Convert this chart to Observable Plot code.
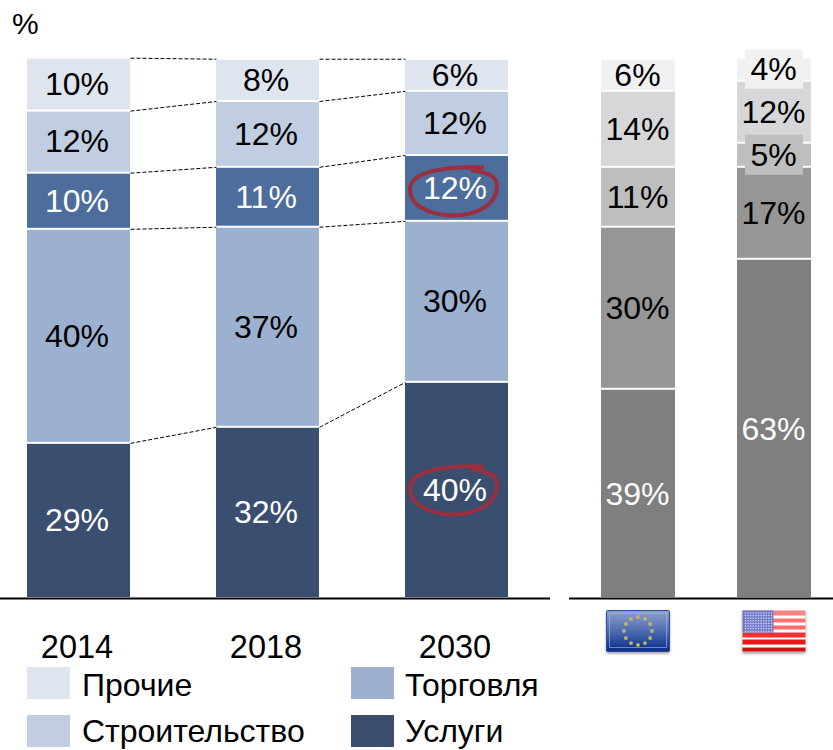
<!DOCTYPE html>
<html>
<head>
<meta charset="utf-8">
<script src="https://cdn.jsdelivr.net/npm/d3@7"></script>
<script src="https://cdn.jsdelivr.net/npm/@observablehq/plot@0.6"></script>
<style>
html,body{margin:0;padding:0;background:#fff;}
body{width:833px;height:750px;position:relative;overflow:hidden;font-family:"Liberation Sans",Arial,sans-serif;color:#000;}
.abs{position:absolute;}
#unit{left:12px;top:7px;font-size:30px;line-height:34px;}
.sw{position:absolute;width:43px;height:32px;}
.lt{position:absolute;font-size:32px;line-height:33px;white-space:nowrap;}
svg{display:block;}
</style>
</head>
<body>
<div id="unit" class="abs">%</div>
<div id="left" class="abs" style="left:0;top:0"></div>
<div id="right" class="abs" style="left:569px;top:0"></div>
<div id="legend"></div>
<script>
// Categories
const years = ["2014", "2018", "2030"];
const regions = ["ЕС", "США"];
const sectors = ["Услуги", "Торговля", "Сегмент", "Строительство", "Прочие"];
const legendItems = ["Прочие", "Торговля", "Строительство", "Услуги"];

// Values as bar heights (bottom to top)
const heights2014 = [29.0, 40.0, 10.5, 11.6, 9.9];
const heights2018 = [32.0, 37.4, 11.2, 12.3, 7.9];
const heights2030 = [40.4, 30.1, 12.3, 12.0, 6.0];
const heightsEU = [39.1, 30.3, 11.2, 14.2, 6.0];
const heightsUS = [63.4, 17.2, 4.5, 11.6, 4.3];

// Printed labels
const labels2014 = ["29%", "40%", "10%", "12%", "10%"];
const labels2018 = ["32%", "37%", "11%", "12%", "8%"];
const labels2030 = ["40%", "30%", "12%", "12%", "6%"];
const labelsEU = ["39%", "30%", "11%", "14%", "6%"];
const labelsUS = ["63%", "17%", "5%", "12%", "4%"];

// Colours
const blues = ["#3a4f6f", "#9cb0cf", "#4d6d9c", "#c1cde0", "#dfe5ef"];
const greys = ["#7f7f7f", "#969696", "#bebebe", "#d6d7d9", "#f1f1f1"];
const blueInk = ["#fff", "#000", "#fff", "#000", "#000"];
const greyInk = ["#fff", "#000", "#000", "#000", "#000"];
const legendColors = ["#dfe5ef", "#9cb0cf", "#c1cde0", "#3a4f6f"];

const FONT = "Liberation Sans, Arial, sans-serif";
const LABEL = 32;

function rows(names, heightsBy, labelsBy, palette, ink) {
  return names.flatMap((g, i) => sectors.map((s, k) => ({
    group: g, sector: s, value: heightsBy[i][k], label: labelsBy[i][k],
    color: palette[k], ink: ink[k]
  })));
}

const leftRows = rows(years, [heights2014, heights2018, heights2030],
  [labels2014, labels2018, labels2030], blues, blueInk);
const rightRows = rows(regions, [heightsEU, heightsUS],
  [labelsEU, labelsUS], greys, greyInk);

// Dashed connectors between neighbouring years
const allHeights = [heights2014, heights2018, heights2030];
const links = [];
for (let i = 0; i < 2; i++) {
  const a = [...d3.cumsum(allHeights[i])], b = [...d3.cumsum(allHeights[i + 1])];
  a.forEach((v, k) => links.push({from: years[i], to: years[i + 1], y1: v, y2: b[k]}));
}

// Hand drawn ring as a dot symbol
const ring = {draw(c) {
  c.moveTo(28, -21);
  c.bezierCurveTo(0, -22, -46, -20, -46, 1);
  c.bezierCurveTo(-46, 20, -20, 27, -4, 27);
  c.bezierCurveTo(20, 27, 41, 17, 41, -3);
  c.bezierCurveTo(41, -13, 28, -17, 15, -18);
}};
const ringMark = (sector, dy) => Plot.dot(leftRows, Plot.stackY({
  x: "group", y: "value", order: null, symbol: ring, r: 10, fill: "none",
  stroke: d => d.group === "2030" && d.sector === sector ? "#9a2f3f" : "none",
  strokeWidth: 4, strokeLinejoin: "round", dx: -1, dy
}));

// Flags
function euFlag() {
  let stars = "";
  for (let i = 0; i < 12; i++) {
    const a = i * Math.PI / 6;
    stars += `<circle cx="${31.5 + 14 * Math.sin(a)}" cy="${20.5 - 14 * Math.cos(a)}" r="1.9" fill="#c4b660"/>`;
  }
  return `<svg xmlns="http://www.w3.org/2000/svg" width="70" height="48" viewBox="-3 -3 70 48">
  <defs><linearGradient id="g" x1="0" y1="0" x2="0" y2="1"><stop offset="0" stop-color="#8fa3cf"/><stop offset=".55" stop-color="#4766ad"/><stop offset="1" stop-color="#062a8a"/></linearGradient>
  <filter id="b"><feGaussianBlur stdDeviation=".6"/></filter><filter id="s"><feGaussianBlur stdDeviation="1.4"/></filter></defs>
  <rect x="0" y="2" width="63" height="41" fill="#999" filter="url(#s)"/>
  <g filter="url(#b)"><rect width="63" height="41" rx="1" fill="url(#g)" stroke="#2c4a9a"/>
  <rect x="3" y="3" width="57" height="34" fill="none" stroke="#a9b9dc" stroke-opacity=".6"/>${stars}</g></svg>`;
}
function usFlag() {
  let d = "";
  for (let r = 0; r < 8; r++) for (let c = 0; c < 11; c++)
    d += `<circle cx="${3 + c * 2.6}" cy="${2.5 + r * 2.6}" r=".8" fill="#d8d8f0"/>`;
  return `<svg xmlns="http://www.w3.org/2000/svg" width="70" height="48" viewBox="-3 -3 70 48">
  <defs><filter id="b"><feGaussianBlur stdDeviation=".7"/></filter><filter id="s"><feGaussianBlur stdDeviation="1.4"/></filter></defs>
  <rect x="0" y="2" width="63" height="41" fill="#999" filter="url(#s)"/>
  <g filter="url(#b)"><rect width="63" height="41" rx="1" fill="#fff"/>
  <rect x="0" y="0" width="63" height="5" fill="#ff8080"/>
  <rect x="0" y="8" width="63" height="4" fill="#ff7070"/>
  <rect x="0" y="15" width="63" height="4" fill="#ff6a6a"/>
  <rect x="0" y="22" width="63" height="5" fill="#f23030"/>
  <rect x="0" y="29" width="63" height="5" fill="#e81818"/>
  <rect x="0" y="37" width="63" height="4" fill="#d01010"/>
  <rect x="0" y="0" width="31" height="22" fill="#6f78c8"/>${d}</g></svg>`;
}
const dataUri = s => "data:image/svg+xml," + encodeURIComponent(s);
const flags = [{group: "ЕС", src: dataUri(euFlag())}, {group: "США", src: dataUri(usFlag())}];

const yScale = {domain: [0, 100], range: [598, 63]};

const segments = (rowsData) => [
  Plot.barY(rowsData, Plot.stackY({x: "group", y: "value", fill: "color", order: null, insetTop: 1, insetBottom: 1}))
];
const percentLabels = (rowsData, dx, dy) => Plot.text(rowsData, Plot.stackY({
  x: "group", y: "value", text: "label", fill: "ink", order: null,
  fontSize: LABEL, fontFamily: FONT, fontWeight: 400, dx, dy
}));

const left = Plot.plot({
  width: 550, height: 665,
  marginLeft: 0, marginRight: 0, marginTop: 0, marginBottom: 67,
  style: {background: "transparent", fontFamily: FONT, overflow: "visible"},
  x: {type: "band", domain: years, range: [27, 508], paddingInner: 0.455, paddingOuter: 0, round: false, label: null},
  y: {...yScale, axis: null},
  color: {type: "identity"},
  marks: [
    Plot.link(links, {
      x1: "from", x2: "to", y1: "y1", y2: "y2", stroke: "#000", strokeWidth: 1, strokeDasharray: "4,2",
      render(index, scales, values, dimensions, context, next) {
        const half = scales.x.bandwidth() / 2;
        const v = {...values,
          x1: Float64Array.from(values.x1, d => d + half),
          x2: Float64Array.from(values.x2, d => d - half)};
        return next(index, scales, v, dimensions, context);
      }
    }),
    ...segments(leftRows),
    percentLabels(leftRows, -2, 0),
    ringMark("Услуги", -3),
    ringMark("Сегмент", 0),
    Plot.ruleY([0], {stroke: "#000", strokeWidth: 2}),
    Plot.axisX({anchor: "bottom", tickSize: 0, tickPadding: 36, fontSize: 32.5, fontFamily: FONT, dx: -2, label: null, fill: "#000", lineAnchor: "top"})
  ]
});
document.getElementById("left").append(left);

const right = Plot.plot({
  width: 264, height: 665,
  marginLeft: 0, marginRight: 0, marginTop: 0, marginBottom: 67,
  style: {background: "transparent", fontFamily: FONT, overflow: "visible"},
  x: {type: "band", domain: regions, range: [32, 242], paddingInner: 0.456, paddingOuter: 0, round: false, label: null, axis: null},
  y: {...yScale, axis: null},
  color: {type: "identity"},
  marks: [
    ...segments(rightRows),
    Plot.barY(rightRows, Plot.stackY({
      x: "group", y: "value", order: null, insetLeft: 8, insetRight: 8, insetTop: -8, insetBottom: -8,
      fill: d => d.group === "США" && (d.sector === "Прочие" || d.sector === "Сегмент") ? d.color : "none"
    })),
    percentLabels(rightRows, -1, 0.4),
    Plot.ruleY([0], {stroke: "#000", strokeWidth: 2}),
    Plot.image(flags, {x: "group", y: () => 0, src: "src", width: 70, height: 48, dy: 33, dx: 0})
  ]
});
document.getElementById("right").append(right);

// Legend
const legendEl = document.getElementById("legend");
const spots = [[27, 667, 82, 669], [351, 667, 405, 669], [27, 715, 82, 715], [351, 715, 405, 715]];
legendItems.forEach((name, i) => {
  const [sx, sy, tx, ty] = spots[i];
  const s = document.createElement("div");
  s.className = "sw"; s.style.left = sx + "px"; s.style.top = sy + "px"; s.style.background = legendColors[i];
  const t = document.createElement("div");
  t.className = "lt"; t.style.left = tx + "px"; t.style.top = ty + "px"; t.textContent = name;
  legendEl.append(s, t);
});
</script>
</body>
</html>
